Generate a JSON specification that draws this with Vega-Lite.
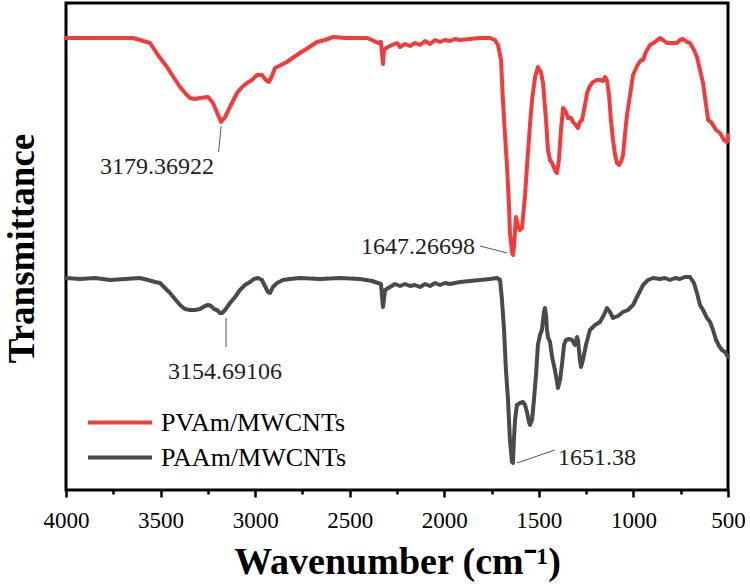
{
  "$schema": "https://vega.github.io/schema/vega-lite/v6.json",
  "width": 662,
  "height": 487,
  "autosize": "none",
  "padding": {"left": 66, "top": 3, "right": 22, "bottom": 95},
  "background": "white",
  "config": {
    "view": {"stroke": "black", "strokeWidth": 3},
    "axis": {"grid": false},
    "font": "Liberation Serif"
  },
  "datasets": {
    "spectra": [
      {"wn":4000,"t":452,"s":"PVAm/MWCNTs"},{"wn":3820,"t":452,"s":"PVAm/MWCNTs"},{"wn":3646,"t":452,"s":"PVAm/MWCNTs"},{"wn":3609,"t":450,"s":"PVAm/MWCNTs"},{"wn":3556,"t":447,"s":"PVAm/MWCNTs"},{"wn":3514,"t":435,"s":"PVAm/MWCNTs"},{"wn":3466,"t":423,"s":"PVAm/MWCNTs"},{"wn":3429,"t":412,"s":"PVAm/MWCNTs"},{"wn":3397,"t":403,"s":"PVAm/MWCNTs"},{"wn":3366,"t":396,"s":"PVAm/MWCNTs"},{"wn":3344,"t":392,"s":"PVAm/MWCNTs"},{"wn":3318,"t":391,"s":"PVAm/MWCNTs"},{"wn":3292,"t":392,"s":"PVAm/MWCNTs"},{"wn":3249,"t":393,"s":"PVAm/MWCNTs"},{"wn":3223,"t":387,"s":"PVAm/MWCNTs"},{"wn":3196,"t":375,"s":"PVAm/MWCNTs"},{"wn":3180,"t":368,"s":"PVAm/MWCNTs"},{"wn":3159,"t":373,"s":"PVAm/MWCNTs"},{"wn":3133,"t":383,"s":"PVAm/MWCNTs"},{"wn":3096,"t":397,"s":"PVAm/MWCNTs"},{"wn":3069,"t":403,"s":"PVAm/MWCNTs"},{"wn":3043,"t":407,"s":"PVAm/MWCNTs"},{"wn":3017,"t":410,"s":"PVAm/MWCNTs"},{"wn":2990,"t":415,"s":"PVAm/MWCNTs"},{"wn":2964,"t":415,"s":"PVAm/MWCNTs"},{"wn":2943,"t":410,"s":"PVAm/MWCNTs"},{"wn":2927,"t":408,"s":"PVAm/MWCNTs"},{"wn":2911,"t":414,"s":"PVAm/MWCNTs"},{"wn":2895,"t":422,"s":"PVAm/MWCNTs"},{"wn":2863,"t":425,"s":"PVAm/MWCNTs"},{"wn":2832,"t":428,"s":"PVAm/MWCNTs"},{"wn":2795,"t":433,"s":"PVAm/MWCNTs"},{"wn":2763,"t":437,"s":"PVAm/MWCNTs"},{"wn":2721,"t":442,"s":"PVAm/MWCNTs"},{"wn":2673,"t":448,"s":"PVAm/MWCNTs"},{"wn":2631,"t":450,"s":"PVAm/MWCNTs"},{"wn":2588,"t":453,"s":"PVAm/MWCNTs"},{"wn":2525,"t":452,"s":"PVAm/MWCNTs"},{"wn":2472,"t":452,"s":"PVAm/MWCNTs"},{"wn":2409,"t":452,"s":"PVAm/MWCNTs"},{"wn":2382,"t":450,"s":"PVAm/MWCNTs"},{"wn":2350,"t":447,"s":"PVAm/MWCNTs"},{"wn":2335,"t":448,"s":"PVAm/MWCNTs"},{"wn":2324,"t":426,"s":"PVAm/MWCNTs"},{"wn":2319,"t":440,"s":"PVAm/MWCNTs"},{"wn":2308,"t":442,"s":"PVAm/MWCNTs"},{"wn":2276,"t":445,"s":"PVAm/MWCNTs"},{"wn":2250,"t":447,"s":"PVAm/MWCNTs"},{"wn":2234,"t":443,"s":"PVAm/MWCNTs"},{"wn":2208,"t":446,"s":"PVAm/MWCNTs"},{"wn":2181,"t":444,"s":"PVAm/MWCNTs"},{"wn":2155,"t":447,"s":"PVAm/MWCNTs"},{"wn":2128,"t":445,"s":"PVAm/MWCNTs"},{"wn":2102,"t":449,"s":"PVAm/MWCNTs"},{"wn":2075,"t":446,"s":"PVAm/MWCNTs"},{"wn":2049,"t":450,"s":"PVAm/MWCNTs"},{"wn":2023,"t":448,"s":"PVAm/MWCNTs"},{"wn":1996,"t":450,"s":"PVAm/MWCNTs"},{"wn":1970,"t":449,"s":"PVAm/MWCNTs"},{"wn":1943,"t":451,"s":"PVAm/MWCNTs"},{"wn":1917,"t":450,"s":"PVAm/MWCNTs"},{"wn":1864,"t":451,"s":"PVAm/MWCNTs"},{"wn":1811,"t":452,"s":"PVAm/MWCNTs"},{"wn":1758,"t":452,"s":"PVAm/MWCNTs"},{"wn":1732,"t":450,"s":"PVAm/MWCNTs"},{"wn":1716,"t":445,"s":"PVAm/MWCNTs"},{"wn":1700,"t":430,"s":"PVAm/MWCNTs"},{"wn":1690,"t":390,"s":"PVAm/MWCNTs"},{"wn":1679,"t":355,"s":"PVAm/MWCNTs"},{"wn":1668,"t":323,"s":"PVAm/MWCNTs"},{"wn":1658,"t":285,"s":"PVAm/MWCNTs"},{"wn":1653,"t":257,"s":"PVAm/MWCNTs"},{"wn":1642,"t":238,"s":"PVAm/MWCNTs"},{"wn":1637,"t":235,"s":"PVAm/MWCNTs"},{"wn":1632,"t":242,"s":"PVAm/MWCNTs"},{"wn":1621,"t":273,"s":"PVAm/MWCNTs"},{"wn":1611,"t":264,"s":"PVAm/MWCNTs"},{"wn":1600,"t":260,"s":"PVAm/MWCNTs"},{"wn":1589,"t":262,"s":"PVAm/MWCNTs"},{"wn":1573,"t":295,"s":"PVAm/MWCNTs"},{"wn":1563,"t":323,"s":"PVAm/MWCNTs"},{"wn":1547,"t":365,"s":"PVAm/MWCNTs"},{"wn":1536,"t":390,"s":"PVAm/MWCNTs"},{"wn":1520,"t":413,"s":"PVAm/MWCNTs"},{"wn":1505,"t":423,"s":"PVAm/MWCNTs"},{"wn":1489,"t":418,"s":"PVAm/MWCNTs"},{"wn":1478,"t":407,"s":"PVAm/MWCNTs"},{"wn":1462,"t":370,"s":"PVAm/MWCNTs"},{"wn":1452,"t":340,"s":"PVAm/MWCNTs"},{"wn":1441,"t":330,"s":"PVAm/MWCNTs"},{"wn":1430,"t":327,"s":"PVAm/MWCNTs"},{"wn":1415,"t":320,"s":"PVAm/MWCNTs"},{"wn":1404,"t":317,"s":"PVAm/MWCNTs"},{"wn":1394,"t":330,"s":"PVAm/MWCNTs"},{"wn":1383,"t":360,"s":"PVAm/MWCNTs"},{"wn":1372,"t":382,"s":"PVAm/MWCNTs"},{"wn":1357,"t":378,"s":"PVAm/MWCNTs"},{"wn":1346,"t":372,"s":"PVAm/MWCNTs"},{"wn":1330,"t":372,"s":"PVAm/MWCNTs"},{"wn":1319,"t":368,"s":"PVAm/MWCNTs"},{"wn":1304,"t":365,"s":"PVAm/MWCNTs"},{"wn":1293,"t":362,"s":"PVAm/MWCNTs"},{"wn":1283,"t":368,"s":"PVAm/MWCNTs"},{"wn":1272,"t":370,"s":"PVAm/MWCNTs"},{"wn":1256,"t":385,"s":"PVAm/MWCNTs"},{"wn":1245,"t":397,"s":"PVAm/MWCNTs"},{"wn":1230,"t":404,"s":"PVAm/MWCNTs"},{"wn":1214,"t":408,"s":"PVAm/MWCNTs"},{"wn":1193,"t":410,"s":"PVAm/MWCNTs"},{"wn":1177,"t":410,"s":"PVAm/MWCNTs"},{"wn":1161,"t":409,"s":"PVAm/MWCNTs"},{"wn":1150,"t":413,"s":"PVAm/MWCNTs"},{"wn":1140,"t":410,"s":"PVAm/MWCNTs"},{"wn":1129,"t":395,"s":"PVAm/MWCNTs"},{"wn":1119,"t":370,"s":"PVAm/MWCNTs"},{"wn":1108,"t":350,"s":"PVAm/MWCNTs"},{"wn":1097,"t":335,"s":"PVAm/MWCNTs"},{"wn":1087,"t":327,"s":"PVAm/MWCNTs"},{"wn":1076,"t":325,"s":"PVAm/MWCNTs"},{"wn":1066,"t":328,"s":"PVAm/MWCNTs"},{"wn":1055,"t":335,"s":"PVAm/MWCNTs"},{"wn":1045,"t":355,"s":"PVAm/MWCNTs"},{"wn":1034,"t":375,"s":"PVAm/MWCNTs"},{"wn":1018,"t":395,"s":"PVAm/MWCNTs"},{"wn":1002,"t":415,"s":"PVAm/MWCNTs"},{"wn":981,"t":424,"s":"PVAm/MWCNTs"},{"wn":960,"t":430,"s":"PVAm/MWCNTs"},{"wn":949,"t":430,"s":"PVAm/MWCNTs"},{"wn":934,"t":438,"s":"PVAm/MWCNTs"},{"wn":912,"t":445,"s":"PVAm/MWCNTs"},{"wn":886,"t":448,"s":"PVAm/MWCNTs"},{"wn":860,"t":452,"s":"PVAm/MWCNTs"},{"wn":844,"t":450,"s":"PVAm/MWCNTs"},{"wn":823,"t":447,"s":"PVAm/MWCNTs"},{"wn":796,"t":447,"s":"PVAm/MWCNTs"},{"wn":770,"t":447,"s":"PVAm/MWCNTs"},{"wn":754,"t":450,"s":"PVAm/MWCNTs"},{"wn":738,"t":451,"s":"PVAm/MWCNTs"},{"wn":717,"t":448,"s":"PVAm/MWCNTs"},{"wn":701,"t":447,"s":"PVAm/MWCNTs"},{"wn":680,"t":440,"s":"PVAm/MWCNTs"},{"wn":664,"t":433,"s":"PVAm/MWCNTs"},{"wn":648,"t":420,"s":"PVAm/MWCNTs"},{"wn":632,"t":407,"s":"PVAm/MWCNTs"},{"wn":616,"t":385,"s":"PVAm/MWCNTs"},{"wn":605,"t":370,"s":"PVAm/MWCNTs"},{"wn":590,"t":368,"s":"PVAm/MWCNTs"},{"wn":579,"t":365,"s":"PVAm/MWCNTs"},{"wn":563,"t":360,"s":"PVAm/MWCNTs"},{"wn":542,"t":357,"s":"PVAm/MWCNTs"},{"wn":521,"t":350,"s":"PVAm/MWCNTs"},{"wn":505,"t":348,"s":"PVAm/MWCNTs"},{"wn":500,"t":355,"s":"PVAm/MWCNTs"},
      {"wn":4000,"t":212,"s":"PAAm/MWCNTs"},{"wn":3926,"t":211,"s":"PAAm/MWCNTs"},{"wn":3847,"t":212,"s":"PAAm/MWCNTs"},{"wn":3767,"t":210,"s":"PAAm/MWCNTs"},{"wn":3688,"t":211,"s":"PAAm/MWCNTs"},{"wn":3609,"t":212,"s":"PAAm/MWCNTs"},{"wn":3566,"t":210,"s":"PAAm/MWCNTs"},{"wn":3529,"t":208,"s":"PAAm/MWCNTs"},{"wn":3503,"t":207,"s":"PAAm/MWCNTs"},{"wn":3477,"t":202,"s":"PAAm/MWCNTs"},{"wn":3450,"t":197,"s":"PAAm/MWCNTs"},{"wn":3424,"t":191,"s":"PAAm/MWCNTs"},{"wn":3397,"t":185,"s":"PAAm/MWCNTs"},{"wn":3371,"t":181,"s":"PAAm/MWCNTs"},{"wn":3344,"t":180,"s":"PAAm/MWCNTs"},{"wn":3318,"t":180,"s":"PAAm/MWCNTs"},{"wn":3292,"t":181,"s":"PAAm/MWCNTs"},{"wn":3265,"t":184,"s":"PAAm/MWCNTs"},{"wn":3249,"t":185,"s":"PAAm/MWCNTs"},{"wn":3233,"t":184,"s":"PAAm/MWCNTs"},{"wn":3218,"t":181,"s":"PAAm/MWCNTs"},{"wn":3202,"t":180,"s":"PAAm/MWCNTs"},{"wn":3186,"t":177,"s":"PAAm/MWCNTs"},{"wn":3175,"t":177,"s":"PAAm/MWCNTs"},{"wn":3159,"t":180,"s":"PAAm/MWCNTs"},{"wn":3133,"t":187,"s":"PAAm/MWCNTs"},{"wn":3106,"t":193,"s":"PAAm/MWCNTs"},{"wn":3080,"t":200,"s":"PAAm/MWCNTs"},{"wn":3054,"t":205,"s":"PAAm/MWCNTs"},{"wn":3027,"t":208,"s":"PAAm/MWCNTs"},{"wn":3006,"t":211,"s":"PAAm/MWCNTs"},{"wn":2985,"t":212,"s":"PAAm/MWCNTs"},{"wn":2964,"t":210,"s":"PAAm/MWCNTs"},{"wn":2948,"t":204,"s":"PAAm/MWCNTs"},{"wn":2932,"t":198,"s":"PAAm/MWCNTs"},{"wn":2921,"t":197,"s":"PAAm/MWCNTs"},{"wn":2906,"t":203,"s":"PAAm/MWCNTs"},{"wn":2884,"t":207,"s":"PAAm/MWCNTs"},{"wn":2853,"t":210,"s":"PAAm/MWCNTs"},{"wn":2816,"t":211,"s":"PAAm/MWCNTs"},{"wn":2763,"t":212,"s":"PAAm/MWCNTs"},{"wn":2657,"t":211,"s":"PAAm/MWCNTs"},{"wn":2551,"t":212,"s":"PAAm/MWCNTs"},{"wn":2446,"t":211,"s":"PAAm/MWCNTs"},{"wn":2382,"t":209,"s":"PAAm/MWCNTs"},{"wn":2350,"t":207,"s":"PAAm/MWCNTs"},{"wn":2335,"t":206,"s":"PAAm/MWCNTs"},{"wn":2324,"t":183,"s":"PAAm/MWCNTs"},{"wn":2313,"t":200,"s":"PAAm/MWCNTs"},{"wn":2287,"t":203,"s":"PAAm/MWCNTs"},{"wn":2261,"t":206,"s":"PAAm/MWCNTs"},{"wn":2234,"t":204,"s":"PAAm/MWCNTs"},{"wn":2208,"t":206,"s":"PAAm/MWCNTs"},{"wn":2181,"t":204,"s":"PAAm/MWCNTs"},{"wn":2155,"t":205,"s":"PAAm/MWCNTs"},{"wn":2128,"t":203,"s":"PAAm/MWCNTs"},{"wn":2102,"t":206,"s":"PAAm/MWCNTs"},{"wn":2075,"t":204,"s":"PAAm/MWCNTs"},{"wn":2049,"t":207,"s":"PAAm/MWCNTs"},{"wn":2023,"t":205,"s":"PAAm/MWCNTs"},{"wn":1996,"t":207,"s":"PAAm/MWCNTs"},{"wn":1970,"t":206,"s":"PAAm/MWCNTs"},{"wn":1917,"t":208,"s":"PAAm/MWCNTs"},{"wn":1864,"t":209,"s":"PAAm/MWCNTs"},{"wn":1811,"t":210,"s":"PAAm/MWCNTs"},{"wn":1758,"t":211,"s":"PAAm/MWCNTs"},{"wn":1721,"t":212,"s":"PAAm/MWCNTs"},{"wn":1705,"t":210,"s":"PAAm/MWCNTs"},{"wn":1695,"t":190,"s":"PAAm/MWCNTs"},{"wn":1684,"t":160,"s":"PAAm/MWCNTs"},{"wn":1674,"t":120,"s":"PAAm/MWCNTs"},{"wn":1663,"t":90,"s":"PAAm/MWCNTs"},{"wn":1653,"t":50,"s":"PAAm/MWCNTs"},{"wn":1642,"t":28,"s":"PAAm/MWCNTs"},{"wn":1637,"t":27,"s":"PAAm/MWCNTs"},{"wn":1632,"t":50,"s":"PAAm/MWCNTs"},{"wn":1626,"t":70,"s":"PAAm/MWCNTs"},{"wn":1616,"t":85,"s":"PAAm/MWCNTs"},{"wn":1600,"t":87,"s":"PAAm/MWCNTs"},{"wn":1584,"t":88,"s":"PAAm/MWCNTs"},{"wn":1573,"t":85,"s":"PAAm/MWCNTs"},{"wn":1563,"t":78,"s":"PAAm/MWCNTs"},{"wn":1552,"t":68,"s":"PAAm/MWCNTs"},{"wn":1547,"t":65,"s":"PAAm/MWCNTs"},{"wn":1536,"t":70,"s":"PAAm/MWCNTs"},{"wn":1526,"t":90,"s":"PAAm/MWCNTs"},{"wn":1515,"t":115,"s":"PAAm/MWCNTs"},{"wn":1505,"t":145,"s":"PAAm/MWCNTs"},{"wn":1494,"t":155,"s":"PAAm/MWCNTs"},{"wn":1484,"t":160,"s":"PAAm/MWCNTs"},{"wn":1473,"t":178,"s":"PAAm/MWCNTs"},{"wn":1468,"t":182,"s":"PAAm/MWCNTs"},{"wn":1462,"t":175,"s":"PAAm/MWCNTs"},{"wn":1457,"t":160,"s":"PAAm/MWCNTs"},{"wn":1452,"t":153,"s":"PAAm/MWCNTs"},{"wn":1441,"t":148,"s":"PAAm/MWCNTs"},{"wn":1430,"t":133,"s":"PAAm/MWCNTs"},{"wn":1415,"t":120,"s":"PAAm/MWCNTs"},{"wn":1404,"t":108,"s":"PAAm/MWCNTs"},{"wn":1399,"t":102,"s":"PAAm/MWCNTs"},{"wn":1388,"t":110,"s":"PAAm/MWCNTs"},{"wn":1378,"t":125,"s":"PAAm/MWCNTs"},{"wn":1367,"t":145,"s":"PAAm/MWCNTs"},{"wn":1357,"t":150,"s":"PAAm/MWCNTs"},{"wn":1341,"t":151,"s":"PAAm/MWCNTs"},{"wn":1325,"t":150,"s":"PAAm/MWCNTs"},{"wn":1309,"t":145,"s":"PAAm/MWCNTs"},{"wn":1298,"t":153,"s":"PAAm/MWCNTs"},{"wn":1293,"t":150,"s":"PAAm/MWCNTs"},{"wn":1283,"t":130,"s":"PAAm/MWCNTs"},{"wn":1277,"t":123,"s":"PAAm/MWCNTs"},{"wn":1267,"t":130,"s":"PAAm/MWCNTs"},{"wn":1251,"t":145,"s":"PAAm/MWCNTs"},{"wn":1230,"t":160,"s":"PAAm/MWCNTs"},{"wn":1203,"t":165,"s":"PAAm/MWCNTs"},{"wn":1177,"t":168,"s":"PAAm/MWCNTs"},{"wn":1156,"t":175,"s":"PAAm/MWCNTs"},{"wn":1140,"t":182,"s":"PAAm/MWCNTs"},{"wn":1124,"t":178,"s":"PAAm/MWCNTs"},{"wn":1108,"t":172,"s":"PAAm/MWCNTs"},{"wn":1082,"t":174,"s":"PAAm/MWCNTs"},{"wn":1055,"t":178,"s":"PAAm/MWCNTs"},{"wn":1029,"t":180,"s":"PAAm/MWCNTs"},{"wn":1002,"t":185,"s":"PAAm/MWCNTs"},{"wn":976,"t":195,"s":"PAAm/MWCNTs"},{"wn":949,"t":205,"s":"PAAm/MWCNTs"},{"wn":923,"t":210,"s":"PAAm/MWCNTs"},{"wn":896,"t":212,"s":"PAAm/MWCNTs"},{"wn":860,"t":211,"s":"PAAm/MWCNTs"},{"wn":833,"t":212,"s":"PAAm/MWCNTs"},{"wn":807,"t":210,"s":"PAAm/MWCNTs"},{"wn":780,"t":212,"s":"PAAm/MWCNTs"},{"wn":754,"t":211,"s":"PAAm/MWCNTs"},{"wn":728,"t":213,"s":"PAAm/MWCNTs"},{"wn":701,"t":213,"s":"PAAm/MWCNTs"},{"wn":680,"t":207,"s":"PAAm/MWCNTs"},{"wn":664,"t":197,"s":"PAAm/MWCNTs"},{"wn":648,"t":185,"s":"PAAm/MWCNTs"},{"wn":632,"t":180,"s":"PAAm/MWCNTs"},{"wn":611,"t":172,"s":"PAAm/MWCNTs"},{"wn":595,"t":168,"s":"PAAm/MWCNTs"},{"wn":579,"t":160,"s":"PAAm/MWCNTs"},{"wn":563,"t":150,"s":"PAAm/MWCNTs"},{"wn":547,"t":144,"s":"PAAm/MWCNTs"},{"wn":532,"t":140,"s":"PAAm/MWCNTs"},{"wn":516,"t":138,"s":"PAAm/MWCNTs"},{"wn":500,"t":133,"s":"PAAm/MWCNTs"}
    ],
    "leaders": [
      {"wn":3180,"wn2":3193,"t":364,"t2":338},
      {"wn":1811,"wn2":1668,"t":244,"t2":237},
      {"wn":3154,"wn2":3154,"t":172,"t2":143},
      {"wn":1616,"wn2":1415,"t":27,"t2":40}
    ],
    "labels": [
      {"wn":3519,"t":323,"text":"3179.36922"},
      {"wn":2139,"t":243,"text":"1647.26698"},
      {"wn":3159,"t":118,"text":"3154.69106"},
      {"wn":1193,"t":32,"text":"1651.38"}
    ]
  },
  "encoding": {
    "x": {
      "field": "wn", "type": "quantitative",
      "scale": {"domain": [500, 4000], "reverse": true, "nice": false, "zero": false},
      "axis": {
        "title": "Wavenumber (cm⁻¹)",
        "titleFont": "Liberation Serif", "titleFontSize": 38, "titleFontWeight": "bold", "titleColor": "black",
        "titleX": 331, "titleY": 83, "titleBaseline": "alphabetic",
        "values": [4000,3750,3500,3250,3000,2750,2500,2250,2000,1750,1500,1250,1000,750,500],
        "labelExpr": "datum.value % 500 === 0 ? format(datum.value, 'd') : ''",
        "labelFont": "Liberation Serif", "labelFontSize": 23, "labelColor": "black",
        "labelPadding": 12, "labelFlush": false, "labelOverlap": false,
        "tickColor": "black", "tickWidth": 2.5,
        "tickSize": {"condition": {"test": "datum.value % 500 === 0", "value": 7}, "value": 4},
        "domain": false, "grid": false
      }
    },
    "y": {
      "field": "t", "type": "quantitative",
      "scale": {"domain": [0, 487], "nice": false, "zero": false},
      "axis": {
        "title": "Transmittance",
        "titleFont": "Liberation Serif", "titleFontSize": 37, "titleFontWeight": "bold", "titleColor": "black",
        "titleX": -33, "titleY": 245, "titleBaseline": "alphabetic", "titleAngle": -90,
        "ticks": false, "labels": false, "domain": false, "grid": false
      }
    }
  },
  "layer": [
    {
      "data": {"name": "spectra"},
      "mark": {"type": "line", "strokeWidth": 4, "strokeJoin": "round", "strokeCap": "round"},
      "encoding": {
        "color": {
          "field": "s", "type": "nominal",
          "scale": {"domain": ["PVAm/MWCNTs", "PAAm/MWCNTs"], "range": ["#f03c3c", "#4a4a4a"]},
          "legend": {
            "title": null, "orient": "none", "legendX": 20, "legendY": 402,
            "symbolType": "stroke", "symbolSize": 4096, "symbolStrokeWidth": 4,
            "labelFont": "Liberation Serif", "labelFontSize": 26, "labelColor": "black",
            "labelLimit": 400,
            "labelOffset": 7, "clipHeight": 35, "rowPadding": 0, "padding": 0
          }
        }
      }
    },
    {
      "data": {"name": "leaders"},
      "mark": {"type": "rule", "color": "#555555", "strokeWidth": 1},
      "encoding": {
        "x2": {"field": "wn2"},
        "y2": {"field": "t2"}
      }
    },
    {
      "data": {"name": "labels"},
      "mark": {"type": "text", "font": "Liberation Serif", "fontSize": 24, "color": "#222222", "baseline": "middle", "align": "center"},
      "encoding": {
        "text": {"field": "text"}
      }
    }
  ]
}
